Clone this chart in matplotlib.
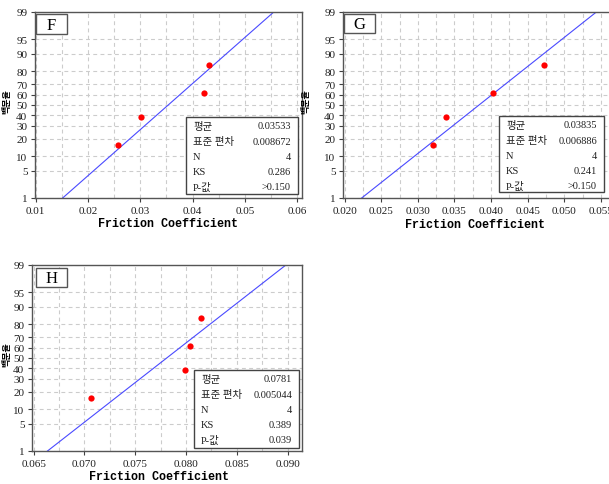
import statistics
import matplotlib
matplotlib.use('Agg')
import matplotlib.pyplot as plt
from matplotlib.patches import Rectangle
from matplotlib.ticker import FixedLocator

W, H = 609, 485

# 백분율 축 (정규 확률지)
pct_ticks = [1, 5, 10, 20, 30, 40, 50, 60, 70, 80, 90, 95, 99]
pct_points = [15.9, 38.6, 61.4, 84.1]

# F
f_x = [0.0257, 0.0302, 0.0422, 0.0432]
f_mean, f_std = 0.03533, 0.008672
f_stats = ['0.03533', '0.008672', '4', '0.286', '>0.150']
f_xticks = [0.01, 0.02, 0.03, 0.04, 0.05, 0.06]
f_xlabels = ['0.01', '0.02', '0.03', '0.04', '0.05', '0.06']

# G
g_x = [0.0320, 0.0339, 0.0403, 0.0472]
g_mean, g_std = 0.03835, 0.006886
g_stats = ['0.03835', '0.006886', '4', '0.241', '>0.150']
g_xticks = [0.020, 0.025, 0.030, 0.035, 0.040, 0.045, 0.050, 0.055]
g_xlabels = ['0.020', '0.025', '0.030', '0.035', '0.040', '0.045', '0.050', '0.055']

# H
h_x = [0.0706, 0.0799, 0.0804, 0.0815]
h_mean, h_std = 0.0781, 0.005044
h_stats = ['0.0781', '0.005044', '4', '0.389', '0.039']
h_xticks = [0.065, 0.070, 0.075, 0.080, 0.085, 0.090]
h_xlabels = ['0.065', '0.070', '0.075', '0.080', '0.085', '0.090']

stat_names = ['평균', '표준 편차', 'N', 'KS', 'P-값']

SERIF = ['Liberation Serif', 'Noto Sans CJK KR']
KR = ['Noto Sans CJK KR', 'DejaVu Sans']
MONO = ['Liberation Mono', 'DejaVu Sans Mono']

nd = statistics.NormalDist()
z = lambda p: nd.inv_cdf(p / 100.0)

fig = plt.figure(figsize=(W / 100, H / 100), dpi=100)
fig.patch.set_facecolor('white')


def fx(x):
    return x / W


def fy(y):
    return 1 - y / H


def panel(box, xlim, xticks, xlabels, minor_step, xs, mean, std, stats,
          letter, lbox, sbox, ylab_x, xlab_pos):
    x0, y0, x1, y1 = box
    ax = fig.add_axes([fx(x0), fy(y1), (x1 - x0) / W, (y1 - y0) / H])
    ax.set_xlim(*xlim)
    ax.set_ylim(z(1), z(99))

    # 격자
    minor = []
    v = xticks[0] - minor_step
    while v < xlim[1]:
        if v > xlim[0]:
            minor.append(v)
        v += minor_step
    for v in minor:
        ax.axvline(v, color='#cccccc', lw=0.8, ls=(0, (3.5, 3)), zorder=0)
    for p in pct_ticks:
        ax.axhline(z(p), color='#cccccc', lw=0.8, ls=(0, (3.5, 3)), zorder=0)

    # 적합선 + 점
    zz = [z(0.5), z(99.5)]
    ax.plot([mean + t * std for t in zz], zz, color='#4a4aff', lw=0.8, zorder=2)
    ax.plot(xs, [z(p) for p in pct_points], 'o', color='#ff0000', ms=4.5,
            mec='none', zorder=3)

    ax.xaxis.set_major_locator(FixedLocator(xticks))
    ax.set_xticklabels(xlabels, family=SERIF, fontsize=8, color='#202020')
    ax.yaxis.set_major_locator(FixedLocator([z(p) for p in pct_ticks]))
    ax.set_yticklabels([str(p) for p in pct_ticks], family=SERIF, fontsize=8,
                       color='#202020')
    ax.tick_params(axis='both', direction='out', length=3, width=0.8,
                   color='#404040', pad=2.5)
    for s in ax.spines.values():
        s.set_color('#555555')
        s.set_linewidth(1.0)

    # 패널 문자
    lx0, ly0, lx1, ly1 = lbox
    fig.patches.append(Rectangle((fx(lx0), fy(ly1)), (lx1 - lx0) / W,
                                 (ly1 - ly0) / H, transform=fig.transFigure,
                                 fc='white', ec='#555555', lw=1.0, zorder=5))
    fig.text(fx((lx0 + lx1) / 2), fy((ly0 + ly1) / 2 + 0.5), letter,
             family=SERIF, fontsize=12, ha='center', va='center', zorder=6)

    # 통계 상자
    sx0, sy0, sx1, sy1 = sbox
    fig.patches.append(Rectangle((fx(sx0), fy(sy1)), (sx1 - sx0) / W,
                                 (sy1 - sy0) / H, transform=fig.transFigure,
                                 fc='white', ec='#444444', lw=1.0, zorder=5))
    for i, (name, val) in enumerate(zip(stat_names, stats)):
        ry = sy0 + 9 + i * 15.2
        fig.text(fx(sx0 + 7), fy(ry), name, family=SERIF, fontsize=7.5,
                 ha='left', va='center', zorder=6, color='#202020')
        fig.text(fx(sx1 - 7), fy(ry), val, family=SERIF, fontsize=7.5,
                 ha='right', va='center', zorder=6, color='#202020')

    fig.text(fx(ylab_x), fy((y0 + y1) / 2 - 4), '백분율', family=KR,
             fontsize=6.5, fontweight='bold', rotation=90,
             ha='center', va='center')
    fig.text(fx(xlab_pos[0]), fy(xlab_pos[1]), 'Friction Coefficient',
             family=MONO, fontsize=8.5, fontweight='bold',
             ha='center', va='center')
    return ax


panel((35, 13, 302, 199), (0.00987, 0.0609), f_xticks, f_xlabels, 0.005,
      f_x, f_mean, f_std, f_stats, 'F', (36, 15, 67, 35),
      (186, 118, 298, 195), 7, (168, 224))

panel((343, 13, 610, 199), (0.01978, 0.05623), g_xticks, g_xlabels, 0.0025,
      g_x, g_mean, g_std, g_stats, 'G', (344, 15, 375, 34),
      (499, 117, 604, 193), 306, (475, 225))

panel((32, 266, 302, 452), (0.06484, 0.09142), h_xticks, h_xlabels, 0.0025,
      h_x, h_mean, h_std, h_stats, 'H', (36, 269, 67, 288),
      (194, 371, 299, 449), 7, (159, 477))

fig.savefig('out.png', dpi=100)
